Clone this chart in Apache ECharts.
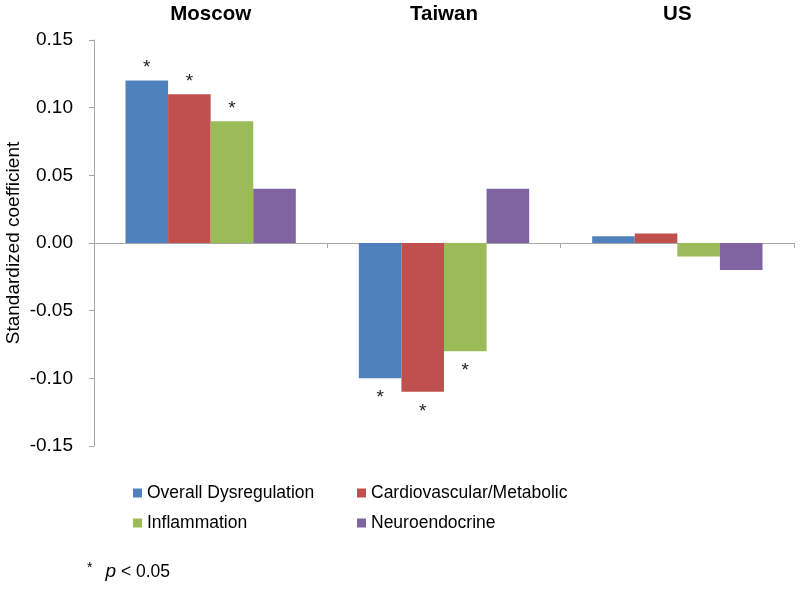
<!DOCTYPE html>
<html>
<head>
<meta charset="utf-8">
<script src="https://cdn.jsdelivr.net/npm/echarts@6/dist/echarts.min.js"></script>
<style>html,body{margin:0;padding:0;background:#fff}#c{width:800px;height:590px}</style>
</head>
<body>
<div id="c"></div>
<script>
const categories = ['Moscow', 'Taiwan', 'US'];
const seriesNames = ['Overall Dysregulation', 'Cardiovascular/Metabolic', 'Inflammation', 'Neuroendocrine'];
const overallValues = [0.12, -0.10, 0.005];
const cardioValues = [0.11, -0.11, 0.007];
const inflamValues = [0.09, -0.08, -0.01];
const neuroValues = [0.04, 0.04, -0.02];
const overallSig = [true, true, false];
const cardioSig = [true, true, false];
const inflamSig = [true, true, false];
const neuroSig = [false, false, false];
const yTicks = { min: -0.15, max: 0.15, step: 0.05 };

const colors = ['#4F81BD', '#C0504D', '#9BBB59', '#8064A2'];
const FONT = 'Liberation Sans, Arial, sans-serif';

function makeData(values, sig) {
  return values.map((v, i) => ({
    value: v,
    label: {
      show: sig[i],
      position: v >= 0 ? 'top' : 'bottom',
      distance: v >= 0 ? 3 : 10
    }
  }));
}

const allValues = [overallValues, cardioValues, inflamValues, neuroValues];
const allSig = [overallSig, cardioSig, inflamSig, neuroSig];

const chart = echarts.init(document.getElementById('c'), null, { renderer: 'canvas' });
chart.setOption({
  animation: false,
  color: colors,
  textStyle: { fontFamily: FONT },
  grid: { left: 94, right: 6, top: 40, bottom: 144, containLabel: false, outerBoundsMode: 'none' },
  legend: [
    {
      data: [seriesNames[0], seriesNames[2]],
      orient: 'vertical', left: 128, top: 478,
      itemWidth: 9, itemHeight: 9, itemGap: 10,
      icon: 'rect',
      textStyle: { fontFamily: FONT, fontSize: 17.5, color: '#000', lineHeight: 20 }
    },
    {
      data: [seriesNames[1], seriesNames[3]],
      orient: 'vertical', left: 352, top: 478,
      itemWidth: 9, itemHeight: 9, itemGap: 10,
      icon: 'rect',
      textStyle: { fontFamily: FONT, fontSize: 17.5, color: '#000', lineHeight: 20 }
    }
  ],
  xAxis: [
    {
      type: 'category',
      data: categories,
      position: 'bottom',
      axisLine: { onZero: true, lineStyle: { color: '#A6A6A6', width: 1 } },
      axisTick: { show: true, length: 5, lineStyle: { color: '#A6A6A6' } },
      axisLabel: { show: false },
      splitLine: { show: false }
    },
    {
      type: 'category',
      data: categories,
      position: 'top',
      axisLine: { show: false },
      axisTick: { show: false },
      axisLabel: { show: true, margin: 15, fontSize: 20.5, fontWeight: 'bold', color: '#000', fontFamily: FONT },
      splitLine: { show: false }
    }
  ],
  yAxis: {
    type: 'value',
    min: yTicks.min,
    max: yTicks.max,
    interval: yTicks.step,
    name: 'Standardized coefficient',
    nameLocation: 'middle',
    nameGap: 71,
    nameMoveOverlap: false,
    nameTextStyle: { fontSize: 19, color: '#000', fontFamily: FONT },
    axisLine: { show: true, lineStyle: { color: '#A6A6A6' } },
    axisTick: { show: true, length: 5, lineStyle: { color: '#A6A6A6' } },
    axisLabel: {
      fontSize: 19, color: '#000', margin: 21,
      formatter: v => v.toFixed(2)
    },
    splitLine: { show: false }
  },
  series: seriesNames.map((name, k) => ({
    name: name,
    type: 'bar',
    xAxisIndex: 0,
    barGap: '0%',
    barCategoryGap: '27%',
    data: makeData(allValues[k], allSig[k]),
    label: { formatter: '*', fontSize: 19, color: '#222', fontFamily: FONT }
  })),
  graphic: [
    {
      type: 'text',
      left: 87,
      top: 561,
      style: {
        text: '{a|*}{s| }{b|p}{c| < 0.05}',
        rich: {
          a: { fontSize: 14, fontFamily: FONT, fill: '#000', verticalAlign: 'top', padding: [0, 0, 8, 0] },
          s: { fontSize: 19, fontFamily: FONT, width: 13 },
          b: { fontSize: 19, fontFamily: FONT, fontStyle: 'italic', fill: '#000' },
          c: { fontSize: 17.5, fontFamily: FONT, fill: '#000' }
        }
      }
    }
  ]
});
</script>
</body>
</html>
